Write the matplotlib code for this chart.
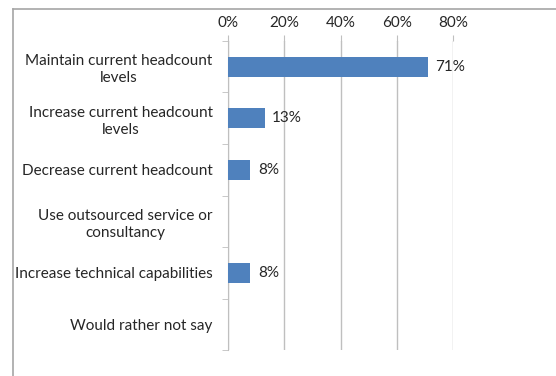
import matplotlib.pyplot as plt
from matplotlib.lines import Line2D
import numpy as np

categories = [
    "Maintain current headcount\nlevels",
    "Increase current headcount\nlevels",
    "Decrease current headcount",
    "Use outsourced service or\nconsultancy",
    "Increase technical capabilities",
    "Would rather not say",
]
values = [0.71, 0.13, 0.08, 0.0, 0.08, 0.0]
xticks = [0, 0.2, 0.4, 0.6, 0.8]

bar_color = "#4F81BD"
grid_color = "#BFBFBF"
text_color = "#262626"

plt.rcParams["font.family"] = ["Lato", "DejaVu Sans"]

fig = plt.figure(figsize=(5.56, 3.76), dpi=100)
ax = fig.add_axes([0.41, 0.069, 0.405, 0.822])

y = np.arange(len(categories))
ax.barh(y, values, height=0.39, color=bar_color, zorder=3)

for yi, v in zip(y, values):
    if v > 0:
        ax.text(v + 0.026, yi, f"{v * 100:.0f}%", va="center", ha="left",
                fontsize=11, color=text_color, zorder=4)

ax.set_xlim(0, 0.8)
ax.set_ylim(len(categories) - 0.5, -0.5)
ax.xaxis.tick_top()
ax.set_xticks(xticks)
ax.set_xticklabels([f"{t * 100:.0f}%" for t in xticks], fontsize=11, color=text_color)
ax.tick_params(axis="x", length=4, color=grid_color, pad=4)

ax.set_yticks(y)
ax.set_yticklabels(categories, fontsize=11, color=text_color, ha="right",
                   multialignment="center", linespacing=1.25)
ax.tick_params(axis="y", which="major", length=0, pad=11)
ax.set_yticks(np.arange(-0.5, len(categories)), minor=True)
ax.tick_params(axis="y", which="minor", length=4, color=grid_color)

ax.grid(axis="x", color=grid_color, linewidth=1, zorder=0)
for s in ["right", "bottom", "top"]:
    ax.spines[s].set_visible(False)
ax.spines["left"].set_color(grid_color)

# outer chart border (top and left only visible)
fig.add_artist(Line2D([13 / 556, 1], [1 - 8.5 / 376, 1 - 8.5 / 376], color="#A6A6A6", lw=1.2))
fig.add_artist(Line2D([13 / 556, 13 / 556], [0, 1 - 8.5 / 376], color="#A6A6A6", lw=1.2))

fig.savefig("out.png", dpi=100)
